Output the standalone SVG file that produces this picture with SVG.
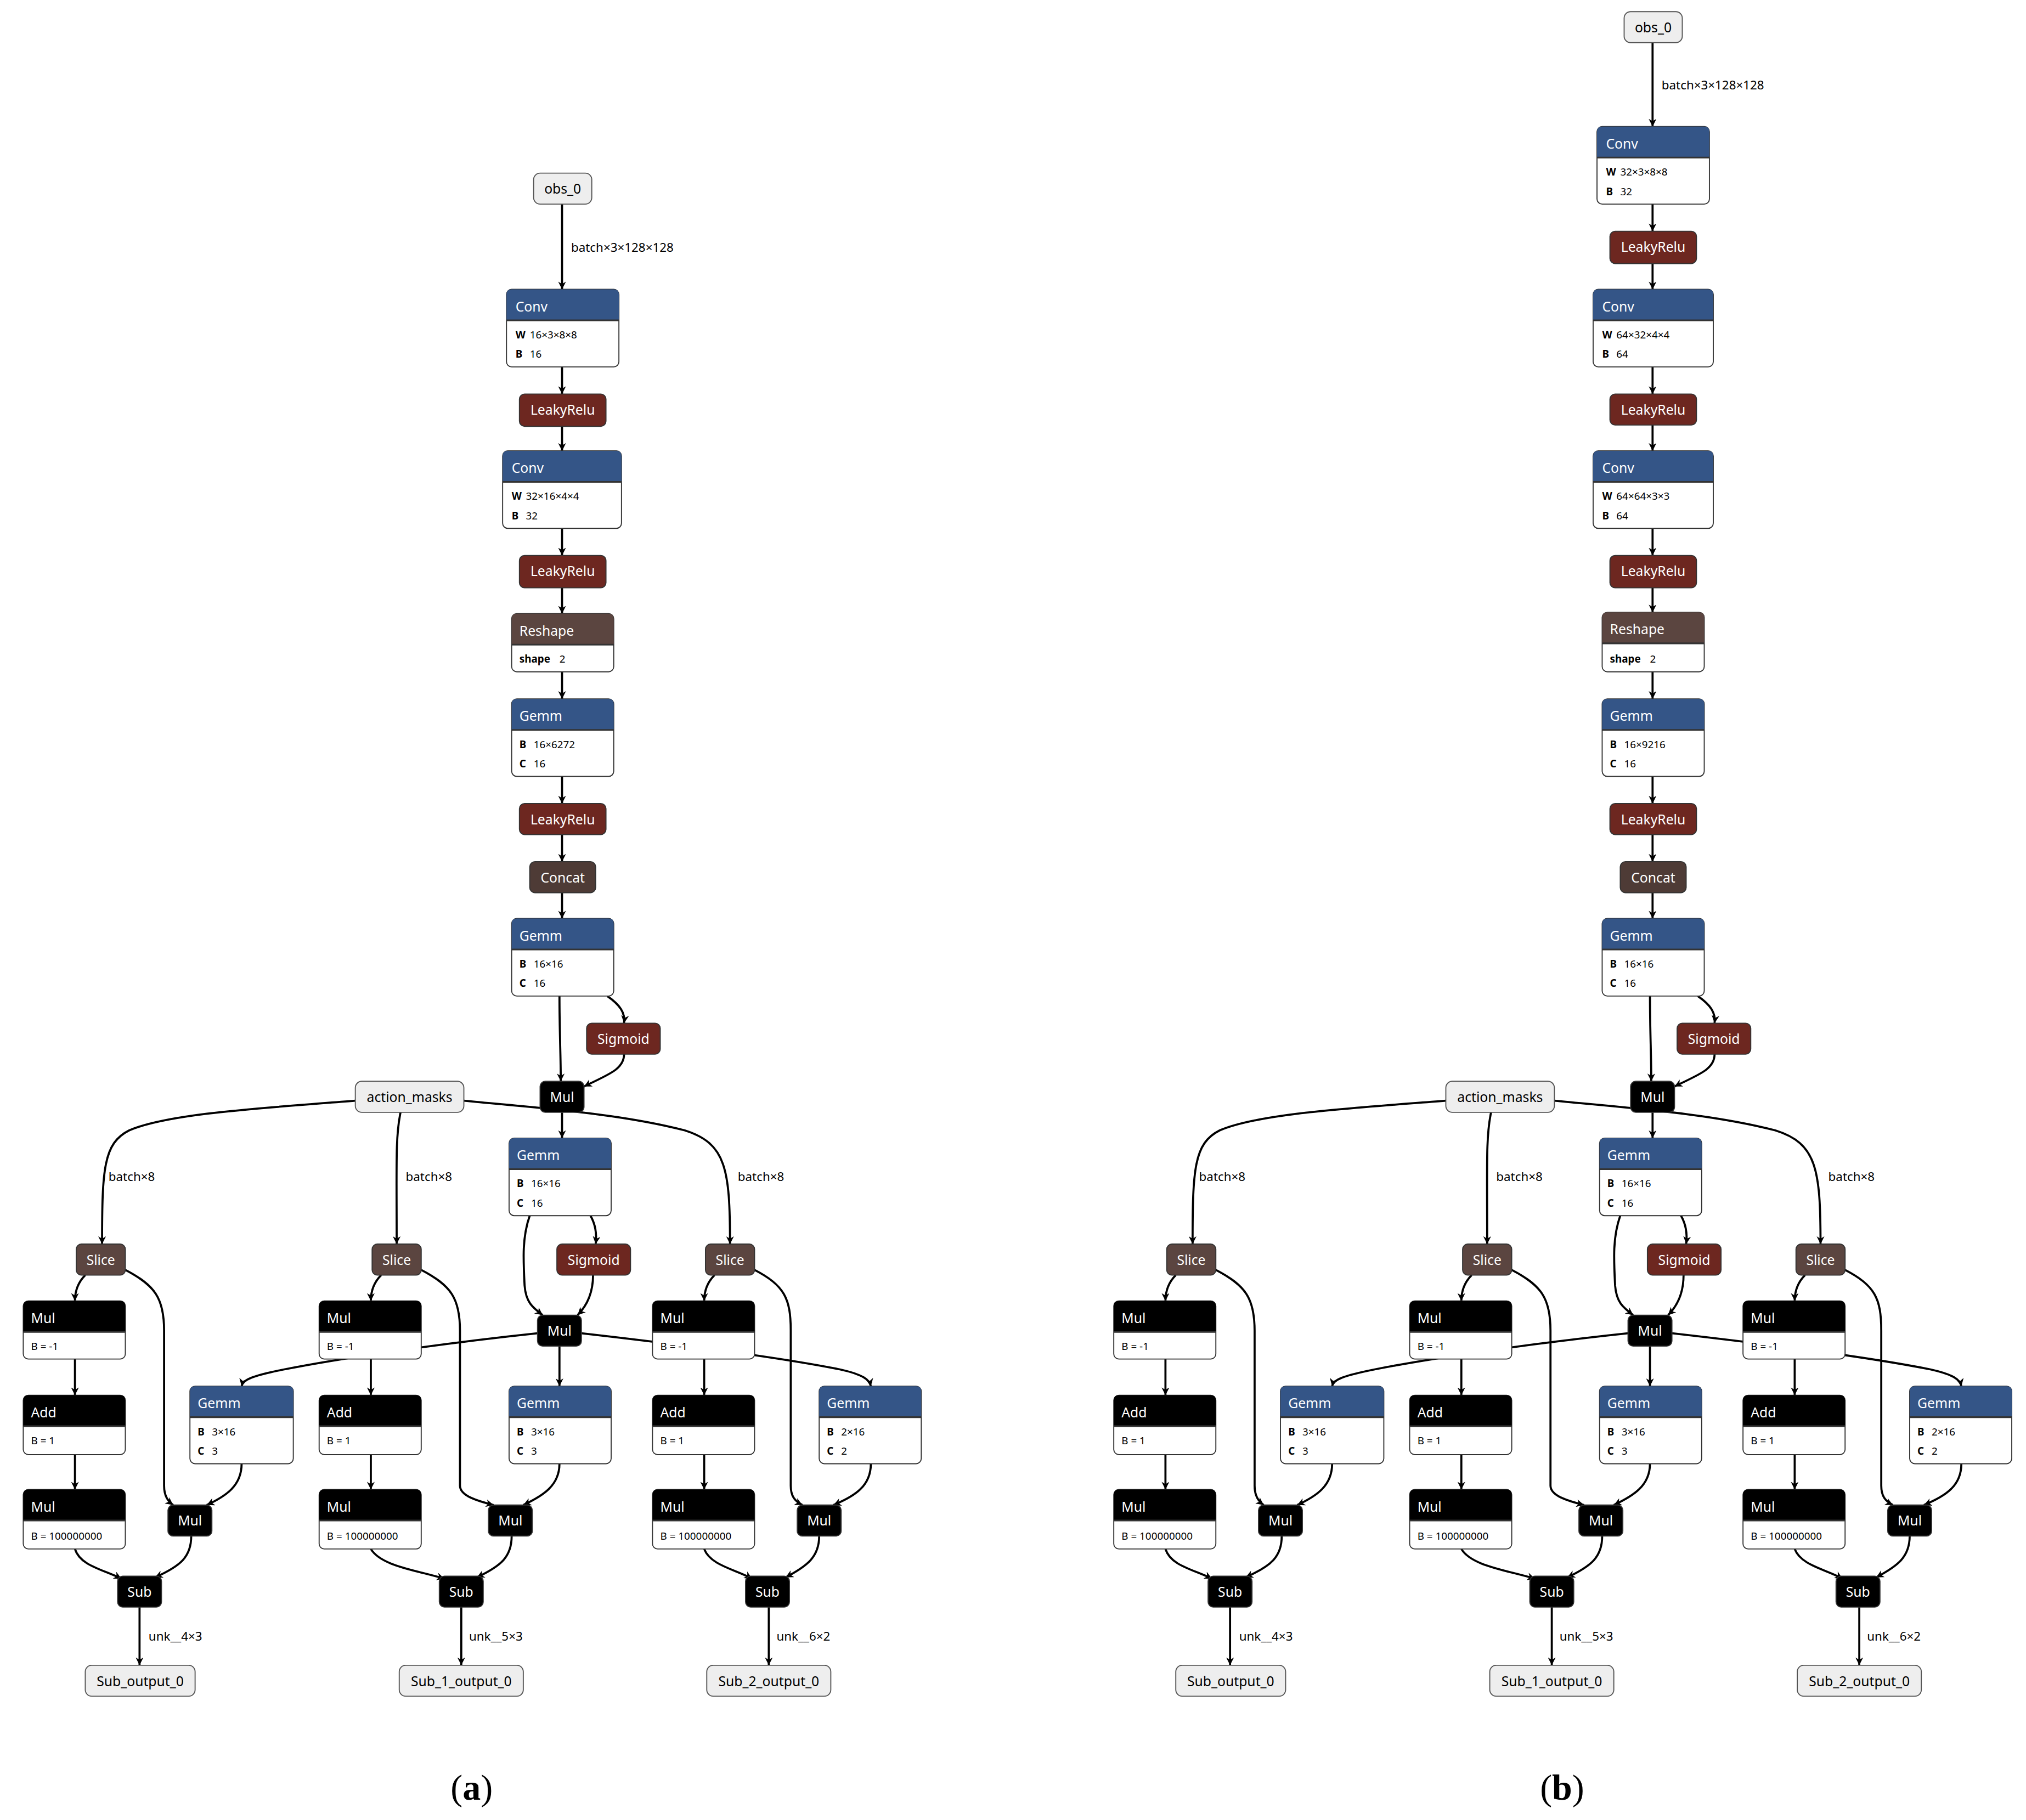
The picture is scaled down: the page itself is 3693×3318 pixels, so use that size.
<svg xmlns="http://www.w3.org/2000/svg" width="3693" height="3318" viewBox="0 0 3693 3318">
<style>
.e{fill:none;stroke:#000;stroke-width:1.6;marker-end:url(#ah)}
.nb{fill:#fff;stroke:#333;stroke-width:0.8}
.in{fill:#eee;stroke:#555;stroke-width:0.8}
.hl{stroke:#333;stroke-width:1.3}
.cv{fill:#345587}.lr{fill:#6d2720}.br{fill:#5b4540}.cc{fill:#4e3b36}.bk{fill:#000}
.sn{stroke:#333;stroke-width:0.8}
text{font-family:"Noto Sans","DejaVu Sans",sans-serif}
.ht{font-size:10.5px;fill:#fff}
.ct{font-size:10.5px;fill:#fff;text-anchor:middle}
.ck{font-size:10.5px;fill:#000;text-anchor:middle}
.bt{font-size:8px;fill:#000}
.bb{font-size:8px;fill:#000;font-weight:bold}
.lb{font-size:9.5px;fill:#000}
.cap{font-family:"Liberation Serif",serif;font-size:28px;fill:#000;text-anchor:middle}
</style>
<defs>
<marker id="ah" markerUnits="userSpaceOnUse" markerWidth="6" markerHeight="6" viewBox="0 0 10 10" refX="10" refY="5" orient="auto"><path d="M0,0L10,5L0,10L3,5z" fill="#000"/></marker>
</defs>
<rect width="3693" height="3318" fill="#fff"/>
<g transform="scale(2.3552)">
<g id="edges-a-top">
<path class="e" d="M435,158V224"/><text class="lb" x="442" y="195">batch×3×128×128</text>
<path class="e" d="M435,284V305"/><path class="e" d="M435,330V349"/><path class="e" d="M435,409V430"/><path class="e" d="M435,455V475"/><path class="e" d="M435,520V541"/><path class="e" d="M435,601V622"/>
</g>
<g id="edges-b-top">
<path class="e" d="M1279,33V98"/><text class="lb" x="1286" y="69">batch×3×128×128</text>
<path class="e" d="M1279,158V179"/><path class="e" d="M1279,204V224"/><path class="e" d="M1279,284V305"/><path class="e" d="M1279,329V349"/><path class="e" d="M1279,409V430"/><path class="e" d="M1279,455V474"/><path class="e" d="M1279,520V541"/><path class="e" d="M1279,601V622"/>
</g>
<g id="edges-a-shared">
<path class="e" d="M435,646V667"/><path class="e" d="M435,691V711"/>
<path class="e" d="M433,771C433,800 434,815 434,837"/>
<path class="e" d="M470,771C480,778 484,784 483,792"/>
<path class="e" d="M483,816C483,828 470,832 452,841"/>
<path class="e" d="M435,861V881"/>
<path class="e" d="M275,852C200,858 130,862 100,875C80,885 79,905 79,963"/><text class="lb" x="84" y="914">batch×8</text>
<path class="e" d="M310,861C306,880 307,900 307,963"/><text class="lb" x="314" y="914">batch×8</text>
<path class="e" d="M359,852C420,858 480,862 530,875C562,885 565,905 565,963"/><text class="lb" x="571" y="914">batch×8</text>
<path class="e" d="M410,941C404,958 405,975 406,995C407,1008 412,1012 420,1018"/>
<path class="e" d="M457,941C461,948 462,955 461,963"/>
<path class="e" d="M459,987C459,1000 455,1010 447,1018"/>
<path class="e" d="M433,1042V1073"/>
<path class="e" d="M416,1032C340,1040 260,1052 220,1060C195,1065 188,1068 187,1073"/>
<path class="e" d="M450,1032C520,1040 600,1050 650,1060C668,1064 673,1068 674,1073"/>
<path class="e" d="M66,987C60,993 58,1000 58,1007"/>
<path class="e" d="M97,983C120,995 127,1005 127,1030V1150C127,1158 130,1162 134,1165"/>
<path class="e" d="M58,1052V1080"/><path class="e" d="M58,1126V1153"/>
<path class="e" d="M58,1199C62,1212 80,1215 94,1222"/>
<path class="e" d="M148,1189C148,1205 140,1212 120,1221"/>
<path class="e" d="M187,1133C187,1150 175,1158 160,1165"/>
<path class="e" d="M108,1244V1289"/><text class="lb" x="115" y="1270">unk__4×3</text>
<path class="e" d="M295,987C289,993 287,1000 287,1007"/>
<path class="e" d="M326,983C349,995 356,1005 356,1030V1150C356,1158 370,1162 382,1165"/>
<path class="e" d="M287,1052V1080"/><path class="e" d="M287,1126V1153"/>
<path class="e" d="M287,1199C295,1212 320,1215 344,1222"/>
<path class="e" d="M396,1189C396,1205 388,1212 369,1221"/>
<path class="e" d="M433,1133C433,1150 420,1158 405,1165"/>
<path class="e" d="M357,1244V1289"/><text class="lb" x="363" y="1270">unk__5×3</text>
<path class="e" d="M553,987C547,993 545,1000 545,1007"/>
<path class="e" d="M584,983C607,995 612,1005 612,1030V1150C612,1158 615,1162 621,1165"/>
<path class="e" d="M545,1052V1080"/><path class="e" d="M545,1126V1153"/>
<path class="e" d="M545,1199C550,1212 570,1215 582,1222"/>
<path class="e" d="M634,1189C634,1205 625,1212 608,1221"/>
<path class="e" d="M674,1133C674,1150 662,1158 645,1165"/>
<path class="e" d="M595,1244V1289"/><text class="lb" x="601" y="1270">unk__6×2</text>
</g>
<g id="edges-b-shared" transform="translate(844,0)">
<path class="e" d="M435,646V667"/><path class="e" d="M435,691V711"/>
<path class="e" d="M433,771C433,800 434,815 434,837"/>
<path class="e" d="M470,771C480,778 484,784 483,792"/>
<path class="e" d="M483,816C483,828 470,832 452,841"/>
<path class="e" d="M435,861V881"/>
<path class="e" d="M275,852C200,858 130,862 100,875C80,885 79,905 79,963"/><text class="lb" x="84" y="914">batch×8</text>
<path class="e" d="M310,861C306,880 307,900 307,963"/><text class="lb" x="314" y="914">batch×8</text>
<path class="e" d="M359,852C420,858 480,862 530,875C562,885 565,905 565,963"/><text class="lb" x="571" y="914">batch×8</text>
<path class="e" d="M410,941C404,958 405,975 406,995C407,1008 412,1012 420,1018"/>
<path class="e" d="M457,941C461,948 462,955 461,963"/>
<path class="e" d="M459,987C459,1000 455,1010 447,1018"/>
<path class="e" d="M433,1042V1073"/>
<path class="e" d="M416,1032C340,1040 260,1052 220,1060C195,1065 188,1068 187,1073"/>
<path class="e" d="M450,1032C520,1040 600,1050 650,1060C668,1064 673,1068 674,1073"/>
<path class="e" d="M66,987C60,993 58,1000 58,1007"/>
<path class="e" d="M97,983C120,995 127,1005 127,1030V1150C127,1158 130,1162 134,1165"/>
<path class="e" d="M58,1052V1080"/><path class="e" d="M58,1126V1153"/>
<path class="e" d="M58,1199C62,1212 80,1215 94,1222"/>
<path class="e" d="M148,1189C148,1205 140,1212 120,1221"/>
<path class="e" d="M187,1133C187,1150 175,1158 160,1165"/>
<path class="e" d="M108,1244V1289"/><text class="lb" x="115" y="1270">unk__4×3</text>
<path class="e" d="M295,987C289,993 287,1000 287,1007"/>
<path class="e" d="M326,983C349,995 356,1005 356,1030V1150C356,1158 370,1162 382,1165"/>
<path class="e" d="M287,1052V1080"/><path class="e" d="M287,1126V1153"/>
<path class="e" d="M287,1199C295,1212 320,1215 344,1222"/>
<path class="e" d="M396,1189C396,1205 388,1212 369,1221"/>
<path class="e" d="M433,1133C433,1150 420,1158 405,1165"/>
<path class="e" d="M357,1244V1289"/><text class="lb" x="363" y="1270">unk__5×3</text>
<path class="e" d="M553,987C547,993 545,1000 545,1007"/>
<path class="e" d="M584,983C607,995 612,1005 612,1030V1150C612,1158 615,1162 621,1165"/>
<path class="e" d="M545,1052V1080"/><path class="e" d="M545,1126V1153"/>
<path class="e" d="M545,1199C550,1212 570,1215 582,1222"/>
<path class="e" d="M634,1189C634,1205 625,1212 608,1221"/>
<path class="e" d="M674,1133C674,1150 662,1158 645,1165"/>
<path class="e" d="M595,1244V1289"/><text class="lb" x="601" y="1270">unk__6×2</text>
</g>

<!-- panel a top nodes -->
<g id="a-obs"><rect class="in" x="413" y="134" width="45" height="24" rx="5"/><text class="ck" x="435.5" y="150">obs_0</text></g>
<g id="a-conv1"><rect class="nb" x="392" y="224" width="87" height="60" rx="4"/><path class="cv" d="M392,248V228Q392,224 396,224H475Q479,224 479,228V248Z"/><line class="hl" x1="392" y1="248" x2="479" y2="248"/><text class="ht" x="399" y="241">Conv</text><text class="bb" x="399" y="262">W</text><text class="bt" x="410" y="262">16×3×8×8</text><text class="bb" x="399" y="277">B</text><text class="bt" x="410" y="277">16</text></g>
<g id="a-lr1"><rect class="lr sn" x="402" y="305" width="67" height="25" rx="4"/><text class="ct" x="435.5" y="321">LeakyRelu</text></g>
<g id="a-conv2"><rect class="nb" x="389" y="349" width="92" height="60" rx="4"/><path class="cv" d="M389,373V353Q389,349 393,349H477Q481,349 481,353V373Z"/><line class="hl" x1="389" y1="373" x2="481" y2="373"/><text class="ht" x="396" y="366">Conv</text><text class="bb" x="396" y="387">W</text><text class="bt" x="407" y="387">32×16×4×4</text><text class="bb" x="396" y="402">B</text><text class="bt" x="407" y="402">32</text></g>
<g id="a-lr2"><rect class="lr sn" x="402" y="430" width="67" height="25" rx="4"/><text class="ct" x="435.5" y="446">LeakyRelu</text></g>
<g id="a-reshape"><rect class="nb" x="396" y="475" width="79" height="45" rx="4"/><path class="br" d="M396,499V479Q396,475 400,475H471Q475,475 475,479V499Z"/><line class="hl" x1="396" y1="499" x2="475" y2="499"/><text class="ht" x="402" y="492">Reshape</text><text class="bb" x="402" y="513">shape</text><text class="bt" x="433" y="513">2</text></g>
<g id="a-gemm1"><rect class="nb" x="396" y="541" width="79" height="60" rx="4"/><path class="cv" d="M396,565V545Q396,541 400,541H471Q475,541 475,545V565Z"/><line class="hl" x1="396" y1="565" x2="475" y2="565"/><text class="ht" x="402" y="558">Gemm</text><text class="bb" x="402" y="579">B</text><text class="bt" x="413" y="579">16×6272</text><text class="bb" x="402" y="594">C</text><text class="bt" x="413" y="594">16</text></g>

<!-- panel b top nodes -->
<g id="b-obs"><rect class="in" x="1257" y="9" width="45" height="24" rx="5"/><text class="ck" x="1279.5" y="25">obs_0</text></g>
<g id="b-conv1"><rect class="nb" x="1236" y="98" width="87" height="60" rx="4"/><path class="cv" d="M1236,122V102Q1236,98 1240,98H1319Q1323,98 1323,102V122Z"/><line class="hl" x1="1236" y1="122" x2="1323" y2="122"/><text class="ht" x="1243" y="115">Conv</text><text class="bb" x="1243" y="136">W</text><text class="bt" x="1254" y="136">32×3×8×8</text><text class="bb" x="1243" y="151">B</text><text class="bt" x="1254" y="151">32</text></g>
<g id="b-lr1"><rect class="lr sn" x="1246" y="179" width="67" height="25" rx="4"/><text class="ct" x="1279.5" y="195">LeakyRelu</text></g>
<g id="b-conv2"><rect class="nb" x="1233" y="224" width="93" height="60" rx="4"/><path class="cv" d="M1233,248V228Q1233,224 1237,224H1322Q1326,224 1326,228V248Z"/><line class="hl" x1="1233" y1="248" x2="1326" y2="248"/><text class="ht" x="1240" y="241">Conv</text><text class="bb" x="1240" y="262">W</text><text class="bt" x="1251" y="262">64×32×4×4</text><text class="bb" x="1240" y="277">B</text><text class="bt" x="1251" y="277">64</text></g>
<g id="b-lr2"><rect class="lr sn" x="1246" y="305" width="67" height="24" rx="4"/><text class="ct" x="1279.5" y="321">LeakyRelu</text></g>
<g id="b-conv3"><rect class="nb" x="1233" y="349" width="93" height="60" rx="4"/><path class="cv" d="M1233,373V353Q1233,349 1237,349H1322Q1326,349 1326,353V373Z"/><line class="hl" x1="1233" y1="373" x2="1326" y2="373"/><text class="ht" x="1240" y="366">Conv</text><text class="bb" x="1240" y="387">W</text><text class="bt" x="1251" y="387">64×64×3×3</text><text class="bb" x="1240" y="402">B</text><text class="bt" x="1251" y="402">64</text></g>
<g id="b-lr3"><rect class="lr sn" x="1246" y="430" width="67" height="25" rx="4"/><text class="ct" x="1279.5" y="446">LeakyRelu</text></g>
<g id="b-reshape"><rect class="nb" x="1240" y="474" width="79" height="46" rx="4"/><path class="br" d="M1240,498V478Q1240,474 1244,474H1315Q1319,474 1319,478V498Z"/><line class="hl" x1="1240" y1="498" x2="1319" y2="498"/><text class="ht" x="1246" y="491">Reshape</text><text class="bb" x="1246" y="513">shape</text><text class="bt" x="1277" y="513">2</text></g>
<g id="b-gemm1"><rect class="nb" x="1240" y="541" width="79" height="60" rx="4"/><path class="cv" d="M1240,565V545Q1240,541 1244,541H1315Q1319,541 1319,545V565Z"/><line class="hl" x1="1240" y1="565" x2="1319" y2="565"/><text class="ht" x="1246" y="558">Gemm</text><text class="bb" x="1246" y="579">B</text><text class="bt" x="1257" y="579">16×9216</text><text class="bb" x="1246" y="594">C</text><text class="bt" x="1257" y="594">16</text></g>

<!-- shared nodes panel a -->
<g id="a-shared">
<g id="a-lr3"><rect class="lr sn" x="402" y="622" width="67" height="24" rx="4"/><text class="ct" x="435.5" y="638">LeakyRelu</text></g>
<g id="a-concat"><rect class="cc sn" x="410" y="667" width="51" height="24" rx="4"/><text class="ct" x="435.5" y="683">Concat</text></g>
<g id="a-gemm2"><rect class="nb" x="396" y="711" width="79" height="60" rx="4"/><path class="cv" d="M396,735V715Q396,711 400,711H471Q475,711 475,715V735Z"/><line class="hl" x1="396" y1="735" x2="475" y2="735"/><text class="ht" x="402" y="728">Gemm</text><text class="bb" x="402" y="749">B</text><text class="bt" x="413" y="749">16×16</text><text class="bb" x="402" y="764">C</text><text class="bt" x="413" y="764">16</text></g>
<g id="a-sig1"><rect class="lr sn" x="454" y="792" width="57" height="24" rx="4"/><text class="ct" x="482.5" y="808">Sigmoid</text></g>
<g id="a-mul1"><rect class="bk sn" x="418" y="837" width="34" height="24" rx="4"/><text class="ct" x="435" y="853">Mul</text></g>
<g id="a-am"><rect class="in" x="275" y="837" width="84" height="24" rx="5"/><text class="ck" x="317" y="853">action_masks</text></g>
<g id="a-gemm3"><rect class="nb" x="394" y="881" width="79" height="60" rx="4"/><path class="cv" d="M394,905V885Q394,881 398,881H469Q473,881 473,885V905Z"/><line class="hl" x1="394" y1="905" x2="473" y2="905"/><text class="ht" x="400" y="898">Gemm</text><text class="bb" x="400" y="919">B</text><text class="bt" x="411" y="919">16×16</text><text class="bb" x="400" y="934">C</text><text class="bt" x="411" y="934">16</text></g>
<g id="a-sig2"><rect class="lr sn" x="431" y="963" width="57" height="24" rx="4"/><text class="ct" x="459.5" y="979">Sigmoid</text></g>
<g id="a-mulc"><rect class="bk sn" x="416" y="1018" width="34" height="24" rx="4"/><text class="ct" x="433" y="1034">Mul</text></g>
<g id="a-sliceL"><rect class="br sn" x="59" y="963" width="38" height="24" rx="4"/><text class="ct" x="78" y="979">Slice</text></g>
<g id="a-sliceM"><rect class="br sn" x="288" y="963" width="38" height="24" rx="4"/><text class="ct" x="307" y="979">Slice</text></g>
<g id="a-sliceR"><rect class="br sn" x="546" y="963" width="38" height="24" rx="4"/><text class="ct" x="565" y="979">Slice</text></g>
<g id="a-mnL"><rect class="nb" x="18" y="1007" width="79" height="45" rx="4"/><path class="bk" d="M18,1031V1011Q18,1007 22,1007H93Q97,1007 97,1011V1031Z"/><line class="hl" x1="18" y1="1031" x2="97" y2="1031"/><text class="ht" x="24" y="1024">Mul</text><text class="bt" x="24" y="1045">B = -1</text></g>
<g id="a-adL"><rect class="nb" x="18" y="1080" width="79" height="46" rx="4"/><path class="bk" d="M18,1104V1084Q18,1080 22,1080H93Q97,1080 97,1084V1104Z"/><line class="hl" x1="18" y1="1104" x2="97" y2="1104"/><text class="ht" x="24" y="1097">Add</text><text class="bt" x="24" y="1118">B = 1</text></g>
<g id="a-m8L"><rect class="nb" x="18" y="1153" width="79" height="46" rx="4"/><path class="bk" d="M18,1177V1157Q18,1153 22,1153H93Q97,1153 97,1157V1177Z"/><line class="hl" x1="18" y1="1177" x2="97" y2="1177"/><text class="ht" x="24" y="1170">Mul</text><text class="bt" x="24" y="1192">B = 100000000</text></g>
<g id="a-mnM"><rect class="nb" x="247" y="1007" width="79" height="45" rx="4"/><path class="bk" d="M247,1031V1011Q247,1007 251,1007H322Q326,1007 326,1011V1031Z"/><line class="hl" x1="247" y1="1031" x2="326" y2="1031"/><text class="ht" x="253" y="1024">Mul</text><text class="bt" x="253" y="1045">B = -1</text></g>
<g id="a-adM"><rect class="nb" x="247" y="1080" width="79" height="46" rx="4"/><path class="bk" d="M247,1104V1084Q247,1080 251,1080H322Q326,1080 326,1084V1104Z"/><line class="hl" x1="247" y1="1104" x2="326" y2="1104"/><text class="ht" x="253" y="1097">Add</text><text class="bt" x="253" y="1118">B = 1</text></g>
<g id="a-m8M"><rect class="nb" x="247" y="1153" width="79" height="46" rx="4"/><path class="bk" d="M247,1177V1157Q247,1153 251,1153H322Q326,1153 326,1157V1177Z"/><line class="hl" x1="247" y1="1177" x2="326" y2="1177"/><text class="ht" x="253" y="1170">Mul</text><text class="bt" x="253" y="1192">B = 100000000</text></g>
<g id="a-mnR"><rect class="nb" x="505" y="1007" width="79" height="45" rx="4"/><path class="bk" d="M505,1031V1011Q505,1007 509,1007H580Q584,1007 584,1011V1031Z"/><line class="hl" x1="505" y1="1031" x2="584" y2="1031"/><text class="ht" x="511" y="1024">Mul</text><text class="bt" x="511" y="1045">B = -1</text></g>
<g id="a-adR"><rect class="nb" x="505" y="1080" width="79" height="46" rx="4"/><path class="bk" d="M505,1104V1084Q505,1080 509,1080H580Q584,1080 584,1084V1104Z"/><line class="hl" x1="505" y1="1104" x2="584" y2="1104"/><text class="ht" x="511" y="1097">Add</text><text class="bt" x="511" y="1118">B = 1</text></g>
<g id="a-m8R"><rect class="nb" x="505" y="1153" width="79" height="46" rx="4"/><path class="bk" d="M505,1177V1157Q505,1153 509,1153H580Q584,1153 584,1157V1177Z"/><line class="hl" x1="505" y1="1177" x2="584" y2="1177"/><text class="ht" x="511" y="1170">Mul</text><text class="bt" x="511" y="1192">B = 100000000</text></g>
<g id="a-gL"><rect class="nb" x="147" y="1073" width="80" height="60" rx="4"/><path class="cv" d="M147,1097V1077Q147,1073 151,1073H223Q227,1073 227,1077V1097Z"/><line class="hl" x1="147" y1="1097" x2="227" y2="1097"/><text class="ht" x="153" y="1090">Gemm</text><text class="bb" x="153" y="1111">B</text><text class="bt" x="164" y="1111">3×16</text><text class="bb" x="153" y="1126">C</text><text class="bt" x="164" y="1126">3</text></g>
<g id="a-gM"><rect class="nb" x="394" y="1073" width="79" height="60" rx="4"/><path class="cv" d="M394,1097V1077Q394,1073 398,1073H469Q473,1073 473,1077V1097Z"/><line class="hl" x1="394" y1="1097" x2="473" y2="1097"/><text class="ht" x="400" y="1090">Gemm</text><text class="bb" x="400" y="1111">B</text><text class="bt" x="411" y="1111">3×16</text><text class="bb" x="400" y="1126">C</text><text class="bt" x="411" y="1126">3</text></g>
<g id="a-gR"><rect class="nb" x="634" y="1073" width="79" height="60" rx="4"/><path class="cv" d="M634,1097V1077Q634,1073 638,1073H709Q713,1073 713,1077V1097Z"/><line class="hl" x1="634" y1="1097" x2="713" y2="1097"/><text class="ht" x="640" y="1090">Gemm</text><text class="bb" x="640" y="1111">B</text><text class="bt" x="651" y="1111">2×16</text><text class="bb" x="640" y="1126">C</text><text class="bt" x="651" y="1126">2</text></g>
<g id="a-smL"><rect class="bk sn" x="130" y="1165" width="34" height="24" rx="4"/><text class="ct" x="147" y="1181">Mul</text></g>
<g id="a-smM"><rect class="bk sn" x="378" y="1165" width="34" height="24" rx="4"/><text class="ct" x="395" y="1181">Mul</text></g>
<g id="a-smR"><rect class="bk sn" x="617" y="1165" width="34" height="24" rx="4"/><text class="ct" x="634" y="1181">Mul</text></g>
<g id="a-subL"><rect class="bk sn" x="91" y="1220" width="34" height="24" rx="4"/><text class="ct" x="108" y="1236">Sub</text></g>
<g id="a-subM"><rect class="bk sn" x="340" y="1220" width="34" height="24" rx="4"/><text class="ct" x="357" y="1236">Sub</text></g>
<g id="a-subR"><rect class="bk sn" x="577" y="1220" width="34" height="24" rx="4"/><text class="ct" x="594" y="1236">Sub</text></g>
<g id="a-outL"><rect class="in" x="66" y="1289" width="85" height="24" rx="5"/><text class="ck" x="108.5" y="1305">Sub_output_0</text></g>
<g id="a-outM"><rect class="in" x="309" y="1289" width="96" height="24" rx="5"/><text class="ck" x="357" y="1305">Sub_1_output_0</text></g>
<g id="a-outR"><rect class="in" x="547" y="1289" width="96" height="24" rx="5"/><text class="ck" x="595" y="1305">Sub_2_output_0</text></g>
</g>

<!-- shared nodes panel b -->
<g id="b-shared" transform="translate(844,0)">
<g id="b-lr4"><rect class="lr sn" x="402" y="622" width="67" height="24" rx="4"/><text class="ct" x="435.5" y="638">LeakyRelu</text></g>
<g id="b-concat"><rect class="cc sn" x="410" y="667" width="51" height="24" rx="4"/><text class="ct" x="435.5" y="683">Concat</text></g>
<g id="b-gemm2"><rect class="nb" x="396" y="711" width="79" height="60" rx="4"/><path class="cv" d="M396,735V715Q396,711 400,711H471Q475,711 475,715V735Z"/><line class="hl" x1="396" y1="735" x2="475" y2="735"/><text class="ht" x="402" y="728">Gemm</text><text class="bb" x="402" y="749">B</text><text class="bt" x="413" y="749">16×16</text><text class="bb" x="402" y="764">C</text><text class="bt" x="413" y="764">16</text></g>
<g id="b-sig1"><rect class="lr sn" x="454" y="792" width="57" height="24" rx="4"/><text class="ct" x="482.5" y="808">Sigmoid</text></g>
<g id="b-mul1"><rect class="bk sn" x="418" y="837" width="34" height="24" rx="4"/><text class="ct" x="435" y="853">Mul</text></g>
<g id="b-am"><rect class="in" x="275" y="837" width="84" height="24" rx="5"/><text class="ck" x="317" y="853">action_masks</text></g>
<g id="b-gemm3"><rect class="nb" x="394" y="881" width="79" height="60" rx="4"/><path class="cv" d="M394,905V885Q394,881 398,881H469Q473,881 473,885V905Z"/><line class="hl" x1="394" y1="905" x2="473" y2="905"/><text class="ht" x="400" y="898">Gemm</text><text class="bb" x="400" y="919">B</text><text class="bt" x="411" y="919">16×16</text><text class="bb" x="400" y="934">C</text><text class="bt" x="411" y="934">16</text></g>
<g id="b-sig2"><rect class="lr sn" x="431" y="963" width="57" height="24" rx="4"/><text class="ct" x="459.5" y="979">Sigmoid</text></g>
<g id="b-mulc"><rect class="bk sn" x="416" y="1018" width="34" height="24" rx="4"/><text class="ct" x="433" y="1034">Mul</text></g>
<g id="b-sliceL"><rect class="br sn" x="59" y="963" width="38" height="24" rx="4"/><text class="ct" x="78" y="979">Slice</text></g>
<g id="b-sliceM"><rect class="br sn" x="288" y="963" width="38" height="24" rx="4"/><text class="ct" x="307" y="979">Slice</text></g>
<g id="b-sliceR"><rect class="br sn" x="546" y="963" width="38" height="24" rx="4"/><text class="ct" x="565" y="979">Slice</text></g>
<g id="b-mnL"><rect class="nb" x="18" y="1007" width="79" height="45" rx="4"/><path class="bk" d="M18,1031V1011Q18,1007 22,1007H93Q97,1007 97,1011V1031Z"/><line class="hl" x1="18" y1="1031" x2="97" y2="1031"/><text class="ht" x="24" y="1024">Mul</text><text class="bt" x="24" y="1045">B = -1</text></g>
<g id="b-adL"><rect class="nb" x="18" y="1080" width="79" height="46" rx="4"/><path class="bk" d="M18,1104V1084Q18,1080 22,1080H93Q97,1080 97,1084V1104Z"/><line class="hl" x1="18" y1="1104" x2="97" y2="1104"/><text class="ht" x="24" y="1097">Add</text><text class="bt" x="24" y="1118">B = 1</text></g>
<g id="b-m8L"><rect class="nb" x="18" y="1153" width="79" height="46" rx="4"/><path class="bk" d="M18,1177V1157Q18,1153 22,1153H93Q97,1153 97,1157V1177Z"/><line class="hl" x1="18" y1="1177" x2="97" y2="1177"/><text class="ht" x="24" y="1170">Mul</text><text class="bt" x="24" y="1192">B = 100000000</text></g>
<g id="b-mnM"><rect class="nb" x="247" y="1007" width="79" height="45" rx="4"/><path class="bk" d="M247,1031V1011Q247,1007 251,1007H322Q326,1007 326,1011V1031Z"/><line class="hl" x1="247" y1="1031" x2="326" y2="1031"/><text class="ht" x="253" y="1024">Mul</text><text class="bt" x="253" y="1045">B = -1</text></g>
<g id="b-adM"><rect class="nb" x="247" y="1080" width="79" height="46" rx="4"/><path class="bk" d="M247,1104V1084Q247,1080 251,1080H322Q326,1080 326,1084V1104Z"/><line class="hl" x1="247" y1="1104" x2="326" y2="1104"/><text class="ht" x="253" y="1097">Add</text><text class="bt" x="253" y="1118">B = 1</text></g>
<g id="b-m8M"><rect class="nb" x="247" y="1153" width="79" height="46" rx="4"/><path class="bk" d="M247,1177V1157Q247,1153 251,1153H322Q326,1153 326,1157V1177Z"/><line class="hl" x1="247" y1="1177" x2="326" y2="1177"/><text class="ht" x="253" y="1170">Mul</text><text class="bt" x="253" y="1192">B = 100000000</text></g>
<g id="b-mnR"><rect class="nb" x="505" y="1007" width="79" height="45" rx="4"/><path class="bk" d="M505,1031V1011Q505,1007 509,1007H580Q584,1007 584,1011V1031Z"/><line class="hl" x1="505" y1="1031" x2="584" y2="1031"/><text class="ht" x="511" y="1024">Mul</text><text class="bt" x="511" y="1045">B = -1</text></g>
<g id="b-adR"><rect class="nb" x="505" y="1080" width="79" height="46" rx="4"/><path class="bk" d="M505,1104V1084Q505,1080 509,1080H580Q584,1080 584,1084V1104Z"/><line class="hl" x1="505" y1="1104" x2="584" y2="1104"/><text class="ht" x="511" y="1097">Add</text><text class="bt" x="511" y="1118">B = 1</text></g>
<g id="b-m8R"><rect class="nb" x="505" y="1153" width="79" height="46" rx="4"/><path class="bk" d="M505,1177V1157Q505,1153 509,1153H580Q584,1153 584,1157V1177Z"/><line class="hl" x1="505" y1="1177" x2="584" y2="1177"/><text class="ht" x="511" y="1170">Mul</text><text class="bt" x="511" y="1192">B = 100000000</text></g>
<g id="b-gL"><rect class="nb" x="147" y="1073" width="80" height="60" rx="4"/><path class="cv" d="M147,1097V1077Q147,1073 151,1073H223Q227,1073 227,1077V1097Z"/><line class="hl" x1="147" y1="1097" x2="227" y2="1097"/><text class="ht" x="153" y="1090">Gemm</text><text class="bb" x="153" y="1111">B</text><text class="bt" x="164" y="1111">3×16</text><text class="bb" x="153" y="1126">C</text><text class="bt" x="164" y="1126">3</text></g>
<g id="b-gM"><rect class="nb" x="394" y="1073" width="79" height="60" rx="4"/><path class="cv" d="M394,1097V1077Q394,1073 398,1073H469Q473,1073 473,1077V1097Z"/><line class="hl" x1="394" y1="1097" x2="473" y2="1097"/><text class="ht" x="400" y="1090">Gemm</text><text class="bb" x="400" y="1111">B</text><text class="bt" x="411" y="1111">3×16</text><text class="bb" x="400" y="1126">C</text><text class="bt" x="411" y="1126">3</text></g>
<g id="b-gR"><rect class="nb" x="634" y="1073" width="79" height="60" rx="4"/><path class="cv" d="M634,1097V1077Q634,1073 638,1073H709Q713,1073 713,1077V1097Z"/><line class="hl" x1="634" y1="1097" x2="713" y2="1097"/><text class="ht" x="640" y="1090">Gemm</text><text class="bb" x="640" y="1111">B</text><text class="bt" x="651" y="1111">2×16</text><text class="bb" x="640" y="1126">C</text><text class="bt" x="651" y="1126">2</text></g>
<g id="b-smL"><rect class="bk sn" x="130" y="1165" width="34" height="24" rx="4"/><text class="ct" x="147" y="1181">Mul</text></g>
<g id="b-smM"><rect class="bk sn" x="378" y="1165" width="34" height="24" rx="4"/><text class="ct" x="395" y="1181">Mul</text></g>
<g id="b-smR"><rect class="bk sn" x="617" y="1165" width="34" height="24" rx="4"/><text class="ct" x="634" y="1181">Mul</text></g>
<g id="b-subL"><rect class="bk sn" x="91" y="1220" width="34" height="24" rx="4"/><text class="ct" x="108" y="1236">Sub</text></g>
<g id="b-subM"><rect class="bk sn" x="340" y="1220" width="34" height="24" rx="4"/><text class="ct" x="357" y="1236">Sub</text></g>
<g id="b-subR"><rect class="bk sn" x="577" y="1220" width="34" height="24" rx="4"/><text class="ct" x="594" y="1236">Sub</text></g>
<g id="b-outL"><rect class="in" x="66" y="1289" width="85" height="24" rx="5"/><text class="ck" x="108.5" y="1305">Sub_output_0</text></g>
<g id="b-outM"><rect class="in" x="309" y="1289" width="96" height="24" rx="5"/><text class="ck" x="357" y="1305">Sub_1_output_0</text></g>
<g id="b-outR"><rect class="in" x="547" y="1289" width="96" height="24" rx="5"/><text class="ck" x="595" y="1305">Sub_2_output_0</text></g>
</g>
<text class="cap" x="365" y="1393">(<tspan font-weight="bold">a</tspan>)</text>
<text class="cap" x="1209" y="1393">(<tspan font-weight="bold">b</tspan>)</text>
</g>
</svg>
